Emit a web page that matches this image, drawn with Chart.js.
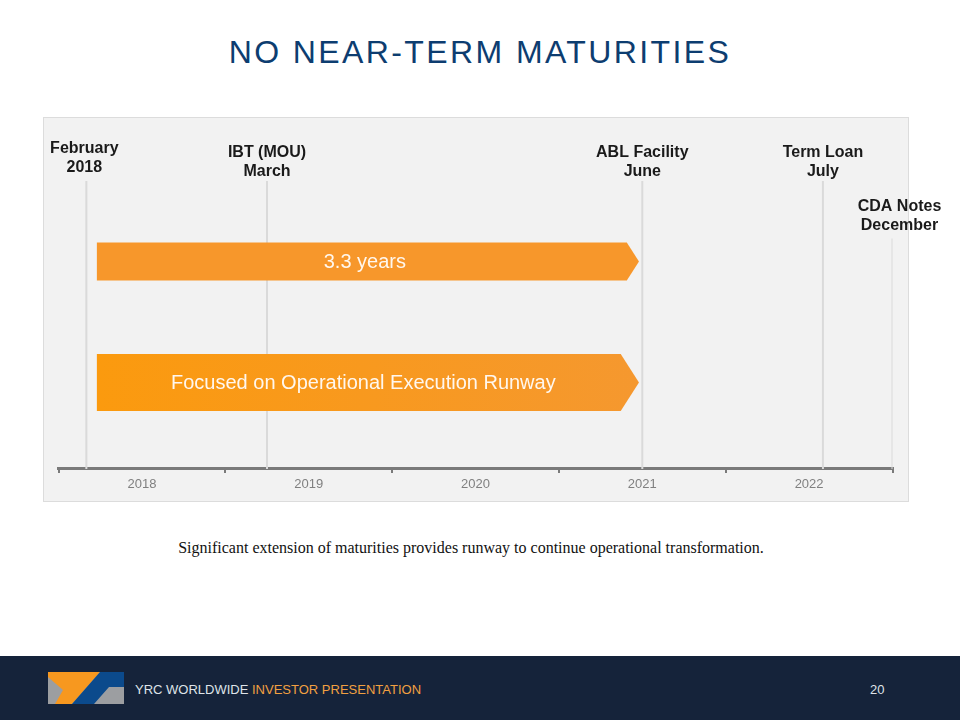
<!DOCTYPE html>
<html>
<head>
<meta charset="utf-8">
<script src="https://cdn.jsdelivr.net/npm/chart.js@4.4.1/dist/chart.umd.min.js"></script>
<style>
body{margin:0;width:960px;height:720px;position:relative;background:#fff;font-family:"Liberation Sans",Arial,sans-serif;overflow:hidden}
#title{position:absolute;left:0;top:33px;width:960px;line-height:38px;text-align:center;font-size:32px;letter-spacing:2.4px;color:#0d3d70}
#panel{position:absolute;left:43px;top:117px;width:864px;height:383px;background:#f2f2f2;border:1px solid #dcdcdc}
#wrap{position:absolute;left:0;top:110px;width:960px;height:400px}
#caption{position:absolute;left:0;top:539px;width:942px;line-height:20px;text-align:center;font:16px "Liberation Serif",serif;color:#111}
#footer{position:absolute;left:0;top:656px;width:960px;height:64px;background:#15233a}
#logo{position:absolute;left:48px;top:16px}
#ftext{position:absolute;left:135px;top:26px;font-size:13px;line-height:16px;color:#dfe3e8}
#ftext span{color:#f1a041}
#page{position:absolute;left:870px;top:26px;font-size:13px;line-height:16px;color:#dfe3e8}
</style>
</head>
<body>
<div id="title">NO NEAR-TERM MATURITIES</div>
<div id="panel"></div>
<div id="wrap"><canvas id="grafico"></canvas></div>
<div id="caption">Significant extension of maturities provides runway to continue operational transformation.</div>
<div id="footer">
  <svg id="logo" width="76" height="32" viewBox="0 0 76 32">
    <rect x="0" y="0" width="76" height="32" fill="#9c9ea1"/>
    <polygon points="0,0 52,0 24,32 7,32 15,18 0,5" fill="#f7981f"/>
    <polygon points="52,0 76,0 76,15 61,15 46,32 24,32" fill="#0b4a8c"/>
  </svg>
  <div id="ftext">YRC WORLDWIDE <span>INVESTOR PRESENTATION</span></div>
  <div id="page">20</div>
</div>

<script>
// ======================
// data
// ======================
const years = ['2018', '2019', '2020', '2021', '2022'];

const eventNames = [['February', '2018'], ['IBT (MOU)', 'March'], ['ABL Facility', 'June'], ['Term Loan', 'July'], ['CDA Notes', 'December']];
const eventDates = [2018.167, 2019.25, 2021.5, 2022.583, 2023.0];
const eventTops = [0, 0, 0, 0, 1];

const barLabels = ['3.3 years', 'Focused on Operational Execution Runway'];
const barStarts = [2018.23, 2018.23];
const barEnds = [2021.48, 2021.48];
const barLanes = [1.4, 3.5];
const laneMax = 5;

// ======================
// styles
// ======================
const barHeights = [38, 57];
const barFills = [['#f7972b', '#f7972b'], ['#fb9a0e', '#f5982f']];
const labelShift = [[-2, 4], [0, 0], [0, 0], [0, 0], [7, 3]];

const barDatasets = barLabels.map((lab, i) => ({
    type: 'bar',
    label: lab,
    data: [{ x: [barStarts[i], barEnds[i]], y: barLanes[i] }],
    xAxisID: 'x',
    yAxisID: 'y',
    barThickness: barHeights[i],
    grouped: false,
    backgroundColor: 'rgba(0,0,0,0)',
    borderWidth: 0,
    order: 1
}));

const lineDatasets = eventDates.map((d, i) => ({
    type: 'line',
    label: eventNames[i].join(' '),
    data: [{ x: d, y: eventTops[i] }, { x: d, y: laneMax }],
    xAxisID: 'x',
    yAxisID: 'y',
    borderColor: '#dadada',
    borderWidth: 2,
    pointRadius: 0,
    fill: false,
    order: 2
}));

// arrows + text
const timeline = {
    id: 'timeline',
    afterDatasetsDraw(chart) {
        const ctx = chart.ctx;
        ctx.save();
        barLabels.forEach((lab, i) => {
            const el = chart.getDatasetMeta(i).data[0];
            const h = el.height, top = el.y - h / 2, left = el.base, right = el.x;
            const tip = h * 0.32;
            const g = ctx.createLinearGradient(left, 0, right, 0);
            g.addColorStop(0, barFills[i][0]);
            g.addColorStop(1, barFills[i][1]);
            ctx.fillStyle = g;
            ctx.beginPath();
            ctx.moveTo(left, top);
            ctx.lineTo(right - tip, top);
            ctx.lineTo(right, el.y);
            ctx.lineTo(right - tip, top + h);
            ctx.lineTo(left, top + h);
            ctx.closePath();
            ctx.fill();

            ctx.fillStyle = '#fff7ee';
            ctx.font = '20px "Liberation Sans", Arial, sans-serif';
            ctx.textAlign = 'center';
            ctx.textBaseline = 'middle';
            ctx.fillText(lab, (left + right) / 2 - tip / 4, el.y + 1);
        });

        ctx.font = 'bold 16px "Liberation Sans", Arial, sans-serif';
        ctx.fillStyle = '#1a1a1a';
        ctx.textAlign = 'center';
        ctx.textBaseline = 'middle';
        eventNames.forEach((lines, i) => {
            const p = chart.getDatasetMeta(barLabels.length + i).data[0];
            const x = p.x + labelShift[i][0];
            const yLast = p.y - 9.5 - labelShift[i][1];
            lines.forEach((t, k) => {
                ctx.fillText(t, x, yLast - (lines.length - 1 - k) * 19);
            });
        });
        ctx.restore();
    }
};

new Chart(document.getElementById('grafico'), {
    type: 'bar',
    data: {
        datasets: [...barDatasets, ...lineDatasets]
    },
    options: {
        indexAxis: 'y',
        responsive: true,
        maintainAspectRatio: false,
        animation: false,
        layout: { padding: { left: 58.5, right: 67.5, top: 71, bottom: 13.5 } },
        plugins: { legend: { display: false }, tooltip: { enabled: false } },
        scales: {
            x: { type: 'linear', min: 2018, max: 2023, display: false, offset: false },
            years: {
                type: 'category',
                labels: years,
                axis: 'x',
                position: 'bottom',
                offset: true,
                grid: { offset: true, drawOnChartArea: false, color: '#7a7a7a', lineWidth: 2, tickLength: 4 },
                border: { color: '#7a7a7a', width: 3 },
                ticks: { color: '#808080', padding: 4, font: { size: 13, family: 'Liberation Sans' } }
            },
            y: { type: 'linear', min: 0, max: laneMax, reverse: true, display: false, offset: false }
        }
    },
    plugins: [timeline]
});
</script>
</body>
</html>
